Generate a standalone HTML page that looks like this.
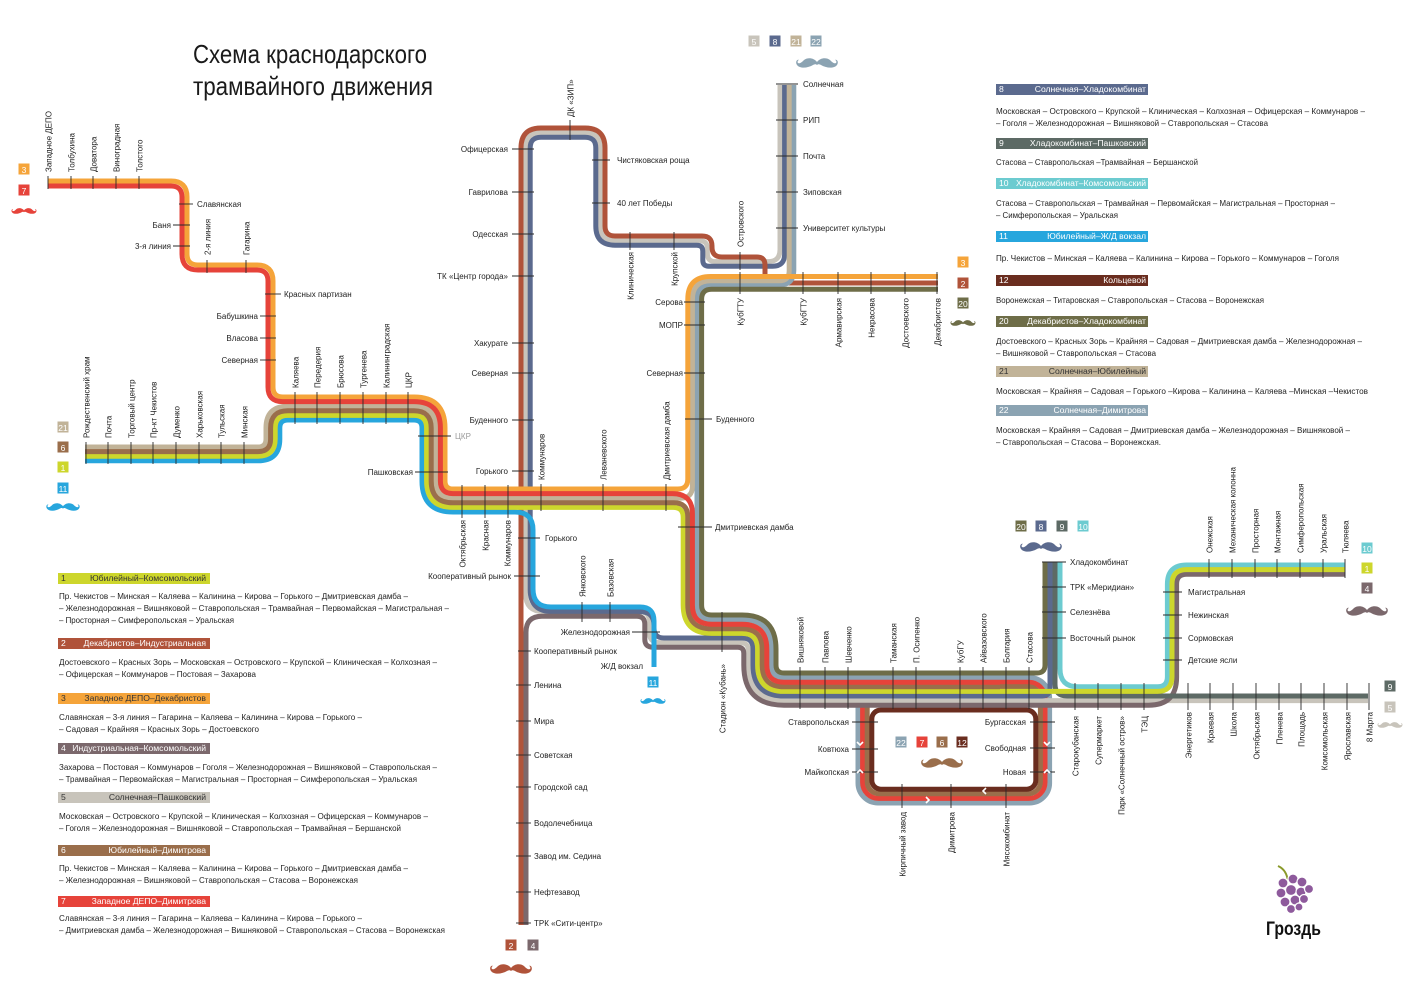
<!DOCTYPE html>
<html><head><meta charset="utf-8"><style>
html,body{margin:0;padding:0;background:#fff}
svg{display:block}
text{font-family:"Liberation Sans Narrow","Liberation Sans","DejaVu Sans",sans-serif;fill:#1e1e1e;font-size:8px}
.t{font-size:26px;fill:#1a1a1a}
.lg{font-size:8.6px}
.bx{font-size:8.6px;fill:#fff}
.bd{font-size:8.6px;fill:#333}
.n{font-size:8.5px;fill:#fff;text-anchor:middle}
.ck{fill:#9a9a9a}
</style></head><body>
<svg id="s" width="1415" height="1000" viewBox="0 0 1415 1000" xmlns="http://www.w3.org/2000/svg">
<g id="ring"></g>
<g id="lines" fill="none" stroke-width="5"></g>
<g id="ticks" stroke="#2a2a2a" stroke-width="0.9"></g>
<g id="chev" fill="none" stroke="#fff" stroke-width="1.6"></g>

<text class="t" x="193" y="63" textLength="234" lengthAdjust="spacingAndGlyphs">Схема краснодарского</text>
<text class="t" x="193" y="95" textLength="240" lengthAdjust="spacingAndGlyphs">трамвайного движения</text>

<text transform="translate(51.5,172) rotate(-90)">Западное ДЕПО</text>
<text transform="translate(74.5,172) rotate(-90)">Толбухина</text>
<text transform="translate(96.5,172) rotate(-90)">Доватора</text>
<text transform="translate(119.5,172) rotate(-90)">Виноградная</text>
<text transform="translate(142.5,172) rotate(-90)">Толстого</text>
<text x="197" y="207">Славянская</text>
<text x="171" y="228" text-anchor="end">Баня</text>
<text x="171" y="249" text-anchor="end">3-я линия</text>
<text transform="translate(210.5,255) rotate(-90)">2-я линия</text>
<text transform="translate(249.5,255) rotate(-90)">Гагарина</text>
<text x="284" y="297">Красных партизан</text>
<text x="258" y="319" text-anchor="end">Бабушкина</text>
<text x="258" y="341" text-anchor="end">Власова</text>
<text x="258" y="363" text-anchor="end">Северная</text>
<text transform="translate(298.5,388) rotate(-90)">Каляева</text>
<text transform="translate(320.5,388) rotate(-90)">Передерия</text>
<text transform="translate(343.5,388) rotate(-90)">Брюсова</text>
<text transform="translate(366.5,388) rotate(-90)">Тургенева</text>
<text transform="translate(389.5,388) rotate(-90)">Калининградская</text>
<text transform="translate(411.5,388) rotate(-90)">ЦКР</text>
<text transform="translate(89.5,438) rotate(-90)">Рождественский храм</text>
<text transform="translate(111.5,438) rotate(-90)">Почта</text>
<text transform="translate(134.5,438) rotate(-90)">Торговый центр</text>
<text transform="translate(156.5,438) rotate(-90)">Пр-кт Чекистов</text>
<text transform="translate(179.5,438) rotate(-90)">Думенко</text>
<text transform="translate(202.5,438) rotate(-90)">Харьковская</text>
<text transform="translate(224.5,438) rotate(-90)">Тульская</text>
<text transform="translate(247.5,438) rotate(-90)">Минская</text>
<text x="455" y="439" class="ck">ЦКР</text>
<text x="413" y="475" text-anchor="end">Пашковская</text>
<text transform="translate(465.5,520) rotate(-90)" text-anchor="end">Октябрьская</text>
<text transform="translate(488.5,520) rotate(-90)" text-anchor="end">Красная</text>
<text transform="translate(510.5,520) rotate(-90)" text-anchor="end">Коммунаров</text>
<text transform="translate(544.5,480) rotate(-90)">Коммунаров</text>
<text transform="translate(606.5,480) rotate(-90)">Леваневского</text>
<text transform="translate(669.5,480) rotate(-90)">Дмитриевская дамба</text>

<text x="508" y="152" text-anchor="end">Офицерская</text>
<text x="508" y="195" text-anchor="end">Гаврилова</text>
<text x="508" y="237" text-anchor="end">Одесская</text>
<text x="508" y="279" text-anchor="end">ТК «Центр города»</text>
<text x="508" y="346" text-anchor="end">Хакурате</text>
<text x="508" y="376" text-anchor="end">Северная</text>
<text x="508" y="423" text-anchor="end">Буденного</text>
<text x="508" y="474" text-anchor="end">Горького</text>
<text transform="translate(573.5,117) rotate(-90)">ДК «ЗИП»</text>
<text x="617" y="163">Чистяковская роща</text>
<text x="617" y="206">40 лет Победы</text>
<text transform="translate(633.5,252) rotate(-90)" text-anchor="end">Клиническая</text>
<text transform="translate(677.5,252) rotate(-90)" text-anchor="end">Крупской</text>
<text transform="translate(743.5,247) rotate(-90)">Островского</text>
<text x="803" y="87">Солнечная</text>
<text x="803" y="123">РИП</text>
<text x="803" y="159">Почта</text>
<text x="803" y="195">Зиповская</text>
<text x="803" y="231">Университет культуры</text>
<text transform="translate(743.5,298) rotate(-90)" text-anchor="end">КубГТУ</text>
<text transform="translate(806.5,298) rotate(-90)" text-anchor="end">КубГТУ</text>
<text transform="translate(841.5,298) rotate(-90)" text-anchor="end">Армавирская</text>
<text transform="translate(874.5,298) rotate(-90)" text-anchor="end">Некрасова</text>
<text transform="translate(908.5,298) rotate(-90)" text-anchor="end">Достоевского</text>
<text transform="translate(940.5,298) rotate(-90)" text-anchor="end">Декабристов</text>
<text x="683" y="305" text-anchor="end">Серова</text>
<text x="683" y="328" text-anchor="end">МОПР</text>
<text x="683" y="376" text-anchor="end">Северная</text>
<text x="716" y="422">Буденного</text>
<text x="715" y="530">Дмитриевская дамба</text>
<text x="545" y="541">Горького</text>
<text x="511" y="579" text-anchor="end">Кооперативный рынок</text>
<text transform="translate(585.5,597) rotate(-90)">Янковского</text>
<text transform="translate(613.5,597) rotate(-90)">Базовская</text>
<text x="630" y="635" text-anchor="end">Железнодорожная</text>
<text x="534" y="654">Кооперативный рынок</text>
<text x="643" y="669" text-anchor="end">Ж/Д вокзал</text>
<text x="534" y="688">Ленина</text>
<text x="534" y="724">Мира</text>
<text x="534" y="758">Советская</text>
<text x="534" y="790">Городской сад</text>
<text x="534" y="826">Водолечебница</text>
<text x="534" y="859">Завод им. Седина</text>
<text x="534" y="895">Нефтезавод</text>
<text x="534" y="926">ТРК «Сити-центр»</text>
<text transform="translate(725.5,664) rotate(-90)" text-anchor="end">Стадион «Кубань»</text>
<text transform="translate(803.5,663) rotate(-90)">Вишняковой</text>
<text transform="translate(828.5,663) rotate(-90)">Павлова</text>
<text transform="translate(851.5,663) rotate(-90)">Шевченко</text>
<text transform="translate(896.5,663) rotate(-90)">Таманская</text>
<text transform="translate(919.5,663) rotate(-90)">П. Осипенко</text>
<text transform="translate(963.5,663) rotate(-90)">КубГУ</text>
<text transform="translate(986.5,663) rotate(-90)">Айвазовского</text>
<text transform="translate(1009.5,663) rotate(-90)">Болгария</text>
<text transform="translate(1032.5,663) rotate(-90)">Стасова</text>
<text x="849" y="725" text-anchor="end">Ставропольская</text>
<text x="849" y="752" text-anchor="end">Ковтюха</text>
<text x="849" y="775" text-anchor="end">Майкопская</text>
<text x="1026" y="725" text-anchor="end">Бургасская</text>
<text x="1026" y="751" text-anchor="end">Свободная</text>
<text x="1026" y="775" text-anchor="end">Новая</text>
<text transform="translate(905.5,812) rotate(-90)" text-anchor="end">Кирпичный завод</text>
<text transform="translate(954.5,812) rotate(-90)" text-anchor="end">Димитрова</text>
<text transform="translate(1009.5,812) rotate(-90)" text-anchor="end">Мясокомбинат</text>
<text x="1070" y="565">Хладокомбинат</text>
<text x="1070" y="590">ТРК «Меридиан»</text>
<text x="1070" y="615">Селезнёва</text>
<text x="1070" y="641">Восточный рынок</text>
<text x="1188" y="595">Магистральная</text>
<text x="1188" y="618">Нежинская</text>
<text x="1188" y="641">Сормовская</text>
<text x="1188" y="663">Детские ясли</text>
<text transform="translate(1212.5,553) rotate(-90)">Онежская</text>
<text transform="translate(1235.5,553) rotate(-90)">Механическая колонна</text>
<text transform="translate(1258.5,553) rotate(-90)">Просторная</text>
<text transform="translate(1280.5,553) rotate(-90)">Монтажная</text>
<text transform="translate(1303.5,553) rotate(-90)">Симферопольская</text>
<text transform="translate(1326.5,553) rotate(-90)">Уральская</text>
<text transform="translate(1348.5,553) rotate(-90)">Тюляева</text>
<text transform="translate(1078.5,716) rotate(-90)" text-anchor="end">Старокубанская</text>
<text transform="translate(1101.5,716) rotate(-90)" text-anchor="end">Супермаркет</text>
<text transform="translate(1124.5,716) rotate(-90)" text-anchor="end">Парк «Солнечный остров»</text>
<text transform="translate(1147.5,716) rotate(-90)" text-anchor="end">ТЭЦ</text>
<text transform="translate(1191.5,712) rotate(-90)" text-anchor="end">Энергетиков</text>
<text transform="translate(1213.5,712) rotate(-90)" text-anchor="end">Краевая</text>
<text transform="translate(1236.5,712) rotate(-90)" text-anchor="end">Школа</text>
<text transform="translate(1259.5,712) rotate(-90)" text-anchor="end">Октябрьская</text>
<text transform="translate(1282.5,712) rotate(-90)" text-anchor="end">Пленева</text>
<text transform="translate(1304.5,712) rotate(-90)" text-anchor="end">Площадь</text>
<text transform="translate(1327.5,712) rotate(-90)" text-anchor="end">Комсомольская</text>
<text transform="translate(1350.5,712) rotate(-90)" text-anchor="end">Ярославская</text>
<text transform="translate(1372.5,712) rotate(-90)" text-anchor="end">8 Марта</text>

<g id="badges"></g>
<text class="n" x="24" y="173">3</text><text class="n" x="24" y="194">7</text>
<text class="n" x="754" y="45">5</text><text class="n" x="775" y="45">8</text><text class="n" x="796" y="45">21</text><text class="n" x="816" y="45">22</text>
<text class="n" x="963" y="266">3</text><text class="n" x="963" y="287">2</text><text class="n" x="963" y="307">20</text>
<text class="n" x="63" y="431">21</text><text class="n" x="63" y="451">6</text><text class="n" x="63" y="471">1</text><text class="n" x="63" y="492">11</text>
<text class="n" x="653" y="686">11</text>
<text class="n" x="511" y="949">2</text><text class="n" x="533" y="949">4</text>
<text class="n" x="901" y="746">22</text><text class="n" x="922" y="746">7</text><text class="n" x="942" y="746">6</text><text class="n" x="962" y="746">12</text>
<text class="n" x="1021" y="530">20</text><text class="n" x="1041" y="530">8</text><text class="n" x="1062" y="530">9</text><text class="n" x="1083" y="530">10</text>
<text class="n" x="1367" y="552">10</text><text class="n" x="1367" y="572">1</text><text class="n" x="1367" y="592">4</text>
<text class="n" x="1390" y="690">9</text><text class="n" x="1390" y="711">5</text>

<g id="legrects"></g>
<text class="bd" x="61" y="581">1</text><text class="bd" x="206" y="581" text-anchor="end">Юбилейный–Комсомольский</text>
<text class="lg" x="59" y="599" textLength="349" lengthAdjust="spacingAndGlyphs">Пр. Чекистов – Минская – Каляева – Калинина – Кирова – Горького – Дмитриевская дамба –</text>
<text class="lg" x="59" y="611" textLength="390" lengthAdjust="spacingAndGlyphs">– Железнодорожная – Вишняковой – Ставропольская – Трамвайная – Первомайская – Магистральная –</text>
<text class="lg" x="59" y="623" textLength="175" lengthAdjust="spacingAndGlyphs">– Просторная – Симферопольская – Уральская</text>
<text class="bx" x="61" y="646">2</text><text class="bx" x="206" y="646" text-anchor="end">Декабристов–Индустриальная</text>
<text class="lg" x="59" y="665" textLength="378" lengthAdjust="spacingAndGlyphs">Достоевского – Красных Зорь – Московская – Островского – Крупской – Клиническая – Колхозная –</text>
<text class="lg" x="59" y="677" textLength="197" lengthAdjust="spacingAndGlyphs">– Офицерская – Коммунаров – Постовая – Захарова</text>
<text class="bd" x="61" y="701">3</text><text class="bd" x="206" y="701" text-anchor="end">Западное ДЕПО–Декабристов</text>
<text class="lg" x="59" y="720" textLength="303" lengthAdjust="spacingAndGlyphs">Славянская – 3-я линия – Гагарина – Каляева – Калинина – Кирова – Горького –</text>
<text class="lg" x="59" y="732" textLength="200" lengthAdjust="spacingAndGlyphs">– Садовая – Крайняя – Красных Зорь – Достоевского</text>
<text class="bx" x="61" y="751">4</text><text class="bx" x="206" y="751" text-anchor="end">Индустриальная–Комсомольский</text>
<text class="lg" x="59" y="770" textLength="378" lengthAdjust="spacingAndGlyphs">Захарова – Постовая – Коммунаров – Гоголя – Железнодорожная – Вишняковой – Ставропольская –</text>
<text class="lg" x="59" y="782" textLength="358" lengthAdjust="spacingAndGlyphs">– Трамвайная – Первомайская – Магистральная – Просторная – Симферопольская – Уральская</text>
<text class="bd" x="61" y="800">5</text><text class="bd" x="206" y="800" text-anchor="end">Солнечная–Пашковский</text>
<text class="lg" x="59" y="819" textLength="369" lengthAdjust="spacingAndGlyphs">Московская – Островского – Крупской – Клиническая – Колхозная – Офицерская – Коммунаров –</text>
<text class="lg" x="59" y="831" textLength="342" lengthAdjust="spacingAndGlyphs">– Гоголя – Железнодорожная – Вишняковой – Ставропольская – Трамвайная – Бершанской</text>
<text class="bx" x="61" y="853">6</text><text class="bx" x="206" y="853" text-anchor="end">Юбилейный–Димитрова</text>
<text class="lg" x="59" y="871" textLength="349" lengthAdjust="spacingAndGlyphs">Пр. Чекистов – Минская – Каляева – Калинина – Кирова – Горького – Дмитриевская дамба –</text>
<text class="lg" x="59" y="883" textLength="299" lengthAdjust="spacingAndGlyphs">– Железнодорожная – Вишняковой – Ставропольская – Стасова – Воронежская</text>
<text class="bx" x="61" y="904">7</text><text class="bx" x="206" y="904" text-anchor="end">Западное ДЕПО–Димитрова</text>
<text class="lg" x="59" y="921" textLength="303" lengthAdjust="spacingAndGlyphs">Славянская – 3-я линия – Гагарина – Каляева – Калинина – Кирова – Горького –</text>
<text class="lg" x="59" y="933" textLength="386" lengthAdjust="spacingAndGlyphs">– Дмитриевская дамба – Железнодорожная – Вишняковой – Ставропольская – Стасова – Воронежская</text>

<text class="bx" x="999" y="92">8</text><text class="bx" x="1146" y="92" text-anchor="end">Солнечная–Хладокомбинат</text>
<text class="lg" x="996" y="114" textLength="369" lengthAdjust="spacingAndGlyphs">Московская – Островского – Крупской – Клиническая – Колхозная – Офицерская – Коммунаров –</text>
<text class="lg" x="996" y="126" textLength="272" lengthAdjust="spacingAndGlyphs">– Гоголя – Железнодорожная – Вишняковой – Ставропольская – Стасова</text>
<text class="bx" x="999" y="146">9</text><text class="bx" x="1146" y="146" text-anchor="end">Хладокомбинат–Пашковский</text>
<text class="lg" x="996" y="165" textLength="202" lengthAdjust="spacingAndGlyphs">Стасова – Ставропольская –Трамвайная – Бершанской</text>
<text class="bx" x="999" y="186">10</text><text class="bx" x="1146" y="186" text-anchor="end">Хладокомбинат–Комсомольский</text>
<text class="lg" x="996" y="206" textLength="339" lengthAdjust="spacingAndGlyphs">Стасова – Ставропольская – Трамвайная – Первомайская – Магистральная – Просторная –</text>
<text class="lg" x="996" y="218" textLength="122" lengthAdjust="spacingAndGlyphs">– Симферопольская – Уральская</text>
<text class="bx" x="999" y="239">11</text><text class="bx" x="1146" y="239" text-anchor="end">Юбилейный–Ж/Д вокзал</text>
<text class="lg" x="996" y="261" textLength="343" lengthAdjust="spacingAndGlyphs">Пр. Чекистов – Минская – Каляева – Калинина – Кирова – Горького – Коммунаров – Гоголя</text>
<text class="bx" x="999" y="283">12</text><text class="bx" x="1146" y="283" text-anchor="end">Кольцевой</text>
<text class="lg" x="996" y="303" textLength="268" lengthAdjust="spacingAndGlyphs">Воронежская – Титаровская – Ставропольская – Стасова – Воронежская</text>
<text class="bx" x="999" y="324">20</text><text class="bx" x="1146" y="324" text-anchor="end">Декабристов–Хладокомбинат</text>
<text class="lg" x="996" y="344" textLength="366" lengthAdjust="spacingAndGlyphs">Достоевского – Красных Зорь – Крайняя – Садовая – Дмитриевская дамба – Железнодорожная –</text>
<text class="lg" x="996" y="356" textLength="160" lengthAdjust="spacingAndGlyphs">– Вишняковой – Ставропольская – Стасова</text>
<text class="bd" x="999" y="374">21</text><text class="bd" x="1146" y="374" text-anchor="end">Солнечная–Юбилейный</text>
<text class="lg" x="996" y="394" textLength="372" lengthAdjust="spacingAndGlyphs">Московская – Крайняя – Садовая – Горького –Кирова – Калинина – Каляева –Минская –Чекистов</text>
<text class="bx" x="999" y="413">22</text><text class="bx" x="1146" y="413" text-anchor="end">Солнечная–Димитрова</text>
<text class="lg" x="996" y="433" textLength="354" lengthAdjust="spacingAndGlyphs">Московская – Крайняя – Садовая – Дмитриевская дамба – Железнодорожная – Вишняковой –</text>
<text class="lg" x="996" y="445" textLength="165" lengthAdjust="spacingAndGlyphs">– Ставропольская – Стасова – Воронежская.</text>

<g>
<path d="M1278,866 Q1287,870 1288,882" stroke="#8a9a2a" stroke-width="2" fill="none"/>
<g fill="#8e5a9c" stroke="#fff" stroke-width="1.2">
<circle cx="1283" cy="883" r="5"/><circle cx="1293" cy="879" r="5"/><circle cx="1302" cy="882" r="5"/>
<circle cx="1281" cy="893" r="5"/><circle cx="1291" cy="890" r="5.5"/><circle cx="1301" cy="892" r="5"/><circle cx="1309" cy="889" r="4.5"/>
<circle cx="1285" cy="902" r="5"/><circle cx="1295" cy="900" r="5"/><circle cx="1304" cy="899" r="4.5"/>
<circle cx="1291" cy="909" r="4.5"/><circle cx="1299" cy="907" r="4"/>
</g>
<text x="1266" y="935" style="font-size:19px;font-weight:bold;fill:#111" textLength="55" lengthAdjust="spacingAndGlyphs">Гроздь</text>
</g>
<g id="must"></g>
</svg>
<script>
var NS="http://www.w3.org/2000/svg";
var C={1:'#cdd62c',2:'#b0533a',3:'#f5a43a',4:'#7b686c',5:'#c8c4bb',6:'#9a6e4b',7:'#e6433a',8:'#5b6a8e',9:'#5d6a65',10:'#6ccbd0',11:'#27a6dd',12:'#6a2d1f',20:'#6e6d48',21:'#c1b398',22:'#8ba3b2'};
function el(t,a,p){var e=document.createElementNS(NS,t);for(var k in a)e.setAttribute(k,a[k]);document.getElementById(p).appendChild(e);return e;}
function rp(P){var d='M'+P[0][0]+','+P[0][1];
for(var i=1;i<P.length-1;i++){var p=P[i],q=P[i-1],n=P[i+1];
var ax=p[0]-q[0],ay=p[1]-q[1],la=Math.hypot(ax,ay);ax/=la;ay/=la;
var bx=n[0]-p[0],by=n[1]-p[1],lb=Math.hypot(bx,by);bx/=lb;by/=lb;
var r=p[2]||10;
d+=' L'+(p[0]-ax*r).toFixed(1)+','+(p[1]-ay*r).toFixed(1)+' Q'+p[0]+','+p[1]+' '+(p[0]+bx*r).toFixed(1)+','+(p[1]+by*r).toFixed(1);}
var L=P[P.length-1];d+=' L'+L[0]+','+L[1];return d;}
function rr(x1,y1,x2,y2,r,c,f){el('rect',{x:x1,y:y1,width:x2-x1,height:y2-y1,rx:r,ry:r,fill:f||'none',stroke:c,'stroke-width':5},'ring');}
rr(858,677.6,1049.6,803,20,C[22]);
rr(862.6,682.2,1045,798.4,16,C[7]);
rr(867.2,686.8,1040.4,793.8,12,C[6]);
rr(871.8,710,1035.8,789.2,9,C[12],'#fff');
var R=[
[5,[[780,85],[780,261.6,12],[707.4,261.6,8],[707.4,240.6,8],[600.4,240.6,14.6],[600.4,132.6,15.4],[525.6,132.6,15.4],[525.6,611.6,18],[649.4,611.6,10],[649.4,642.6,10],[748.4,642.6,8],[748.4,700.6,35.6],[1368,700.6]]],
[8,[[784.6,85],[784.6,266.2,12],[702.8,266.2,6],[702.8,245.2,6],[595.8,245.2,19.2],[595.8,137.2,10.8],[530.2,137.2,10.8],[530.2,611.6,22],[654,611.6,14],[654,638,10],[753,638,11],[753,696,31],[1050,696,8],[1050,562]]],
[2,[[521,925],[521,128,20],[605,128,20],[605,236,10],[712,236,10],[712,257,10],[765,257,8],[765,283,8],[938,283]]],
[4,[[526,925],[526,616.2,16],[644.8,616.2,8],[644.8,647.2,8],[743.8,647.2,6],[743.8,705.2,40.2],[1176.6,705.2,28],[1176.6,574.2,10],[1345,574.2]]],
[9,[[1055,562],[1055,696,12],[1368,696]]],
[10,[[1060,562],[1060,686.8,18],[1167.4,686.8,10],[1167.4,565,19.2],[1345,565]]],
[22,[[793.8,85],[793.8,285,14.6],[697,285,14.3],[697,619.6,14.6],[771.4,619.6,29.4],[771.4,677.6,12.6],[1000,677.6]]],
[21,[[85,447],[266,447,8],[266,406.2,21.8],[435.8,406.2,21.8],[435.8,498.2,17.2],[692.4,498.2,12],[692.4,280.8,18.6],[789.2,280.8,10],[789.2,85]]],
[20,[[938,289.3],[701.6,289.3,10],[701.6,615,10],[776,615,34],[776,673,8],[1045,673,8],[1045,562]]],
[3,[[48,181],[187,181,16],[187,265,11],[273,265,16],[273,397,10],[445,397,31],[445,489,8],[687.8,489,10],[687.8,276.5,22.8],[938,276.5]]],
[11,[[85,460.8],[279.8,460.8,21.8],[279.8,420,8],[422,420,8],[422,512,31],[533,512,18],[533,607,18],[654,607,14],[654,667]]],
[1,[[85,456.2],[275.2,456.2,17.2],[275.2,415.4,12.6],[426.6,415.4,12.6],[426.6,507.4,26.4],[683.2,507.4,10],[683.2,633.4,28.4],[757.6,633.4,15.6],[757.6,691.4,26.4],[1172,691.4,14.6],[1172,569.6,14.6],[1345,569.6]]],
[6,[[85,451.6],[270.6,451.6,12.6],[270.6,410.8,17.2],[431.2,410.8,17.2],[431.2,502.8,21.8],[687.8,502.8,14],[687.8,628.8,23.8],[762.2,628.8,20.2],[762.2,686.8,21.8],[1000,686.8]]],
[7,[[48,186],[182,186,11],[182,270,16],[268,270,11],[268,401.6,14.6],[440.4,401.6,26.4],[440.4,493.6,12.6],[692.4,493.6,20],[692.4,624.2,19.2],[766.8,624.2,24.8],[766.8,682.2,17.2],[1000,682.2]]]
];
R.forEach(function(l){el('path',{d:rp(l[1]),stroke:C[l[0]],'stroke-linecap':'butt'},'lines');});
var T=[];
[48,71,93,116,139].forEach(function(x){T.push([x,176,x,189]);});
T.push([179,204,193,204],[173,225,190,225],[173,246,190,246]);
[207,246].forEach(function(x){T.push([x,260,x,273]);});
T.push([265,294,281,294]);[316,338,360].forEach(function(y){T.push([260,y,276,y]);});
[295,317,340,363,386,408].forEach(function(x){T.push([x,392,x,424]);});
[86,108,131,153,176,199,221,244].forEach(function(x){T.push([x,442,x,464]);});
T.push([418,436,451,436],[415,472,448,472]);
[462,485,508].forEach(function(x){T.push([x,485,x,518]);});
[541,603,666].forEach(function(x){T.push([x,484,x,511]);});
[149,192,234,276,343,373,420,471].forEach(function(y){T.push([512,y,534,y]);});
T.push([570,120,570,140],[592,160,610,160],[592,203,610,203],[630,232,630,250],[674,232,674,250],[740,252,740,270]);
[84,120,156,192,228].forEach(function(y){T.push([776,y,798,y]);});
[740,803,838,871,905,937].forEach(function(x){T.push([x,272,x,294]);});
[302,325,373].forEach(function(y){T.push([684,y,705,y]);});
T.push([685,419,712,419],[678,527,712,527],[518,538,540,538],[514,576,540,576]);
[582,610].forEach(function(x){T.push([x,602,x,622]);});
T.push([632,632,660,632],[518,651,531,651]);
[685,721,755,787,823,856,892,923].forEach(function(y){T.push([516,y,531,y]);});
T.push([722,612,722,652]);
[800,825,848,893,916,960,983,1006,1029].forEach(function(x){T.push([x,667,x,709]);});
[722,749,772].forEach(function(y){T.push([852,y,878,y]);});
[722,748,772].forEach(function(y){T.push([1030,y,1055,y]);});
[902,951,1006].forEach(function(x){T.push([x,784,x,808]);});
[562,587,612,638].forEach(function(y){T.push([1042,y,1066,y]);});
[1075,1098,1121,1144,1188,1210,1233,1256,1279,1301,1324,1347,1369].forEach(function(x){T.push([x,683,x,710]);});
[592,615,638,660].forEach(function(y){T.push([1163,y,1182,y]);});
[1209,1232,1255,1277,1300,1323,1345].forEach(function(x){T.push([x,559,x,578]);});
T.forEach(function(t){el('line',{x1:t[0],y1:t[1],x2:t[2],y2:t[3]},'ticks');});
[[860,770,1],[860,745,-1],[1047,745,-1],[1047,770,1]].forEach(function(c){var x=c[0],y=c[1],s=c[2];el('polyline',{points:(x-3)+','+(y+3*s)+' '+x+','+y+' '+(x+3)+','+(y+3*s)},'chev');});
el('polyline',{points:'926,797 929,800 926,803'},'chev');el('polyline',{points:'986,788 983,791 986,794'},'chev');
var B=[[24,169,3],[24,190,7],[754,41,5],[775,41,8],[796,41,21],[816,41,22],[963,262,3],[963,283,2],[963,303,20],[63,427,21],[63,447,6],[63,467,1],[63,488,11],[653,682,11],[511,945,2],[533,945,4],[901,742,22],[922,742,7],[942,742,6],[962,742,12],[1021,526,20],[1041,526,8],[1062,526,9],[1083,526,10],[1367,548,10],[1367,568,1],[1367,588,4],[1390,686,9],[1390,707,5]];
B.forEach(function(b){el('rect',{x:b[0]-5.5,y:b[1]-5.5,width:11,height:11,fill:C[b[2]]},'badges');});
var LR=[[58,573,1],[58,638,2],[58,693,3],[58,743,4],[58,792,5],[58,845,6],[58,896,7],[996,84,8],[996,138,9],[996,178,10],[996,231,11],[996,275,12],[996,316,20],[996,366,21],[996,405,22]];
LR.forEach(function(b){el('rect',{x:b[0],y:b[1],width:152,height:11,fill:C[b[2]]},'legrects');});
var M="M0,-1 C-3,-5 -9,-6 -13,-3 C-15,-1 -17,1 -19,0 C-20,-1 -19,-3 -18,-3 C-20,-4 -22,-1 -20,2 C-17,6 -9,5 -4,2 C-2,1 -1,1 0,2 C1,1 2,1 4,2 C9,5 17,6 20,2 C22,-1 20,-4 18,-3 C19,-3 20,-1 19,0 C17,1 15,-1 13,-3 C9,-6 3,-5 0,-1Z";
[[24,211,7,0.6],[817,63,22,1],[963,323,20,0.6],[63,507,11,0.8],[653,701,11,0.6],[511,969,2,1],[942,763,6,1],[1041,547,8,1],[1367,611,4,1],[1390,725,5,0.6]].forEach(function(m){el('path',{d:M,fill:C[m[2]],transform:'translate('+m[0]+','+m[1]+') scale('+m[3]+')'},'must');});
</script>
</body></html>
